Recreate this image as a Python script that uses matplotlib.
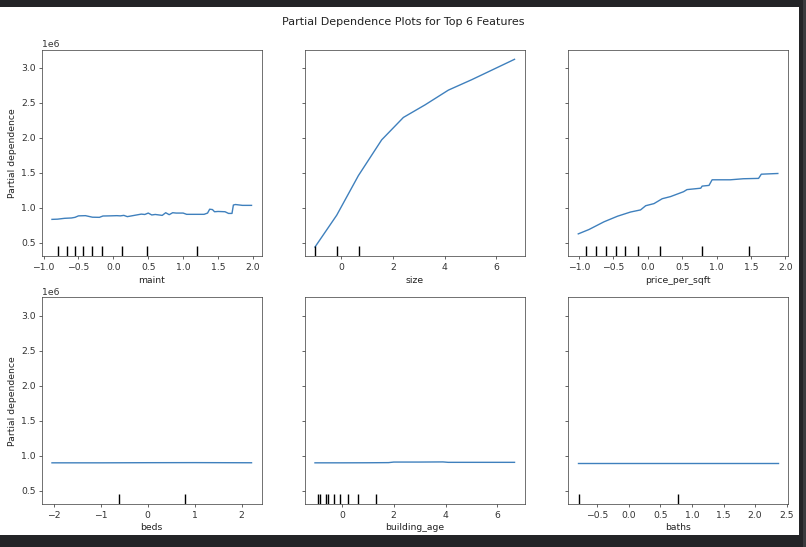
import numpy as np
import matplotlib
matplotlib.use("Agg")
import matplotlib.pyplot as plt
from matplotlib.patches import Rectangle

# ---------------- data ----------------
features = ["maint", "size", "price_per_sqft", "beds", "building_age", "baths"]

maint_x = [-0.88, -0.80, -0.70, -0.60, -0.55, -0.50, -0.40, -0.30, -0.20, -0.15,
           -0.05, 0.05, 0.10, 0.15, 0.20, 0.30, 0.40, 0.45, 0.50, 0.55, 0.60,
           0.70, 0.75, 0.80, 0.85, 0.90, 1.00, 1.05, 1.10, 1.30, 1.35, 1.38,
           1.42, 1.45, 1.50, 1.60, 1.65, 1.70, 1.72, 1.75, 1.85, 1.98]
maint_y = [0.835, 0.838, 0.850, 0.855, 0.864, 0.885, 0.888, 0.866, 0.864, 0.883,
           0.885, 0.888, 0.885, 0.892, 0.874, 0.892, 0.910, 0.905, 0.925, 0.898,
           0.905, 0.892, 0.930, 0.902, 0.930, 0.925, 0.925, 0.907, 0.907, 0.907,
           0.925, 0.980, 0.975, 0.944, 0.948, 0.944, 0.920, 0.920, 1.040, 1.047,
           1.035, 1.035]
maint_deciles = [-0.794, -0.669, -0.55, -0.439, -0.309, -0.157, 0.117, 0.476, 1.20]

size_x = [-1.02, -0.18, 0.66, 1.56, 2.40, 3.24, 4.14, 5.05, 6.70]
size_y = [0.44, 0.894, 1.46, 1.97, 2.29, 2.47, 2.68, 2.83, 3.12]
size_deciles = [-1.02, -0.17, 0.68]

pps_x = [-1.01, -0.855, -0.637, -0.44, -0.25, -0.105, -0.03, 0.09, 0.21, 0.33,
         0.52, 0.57, 0.77, 0.79, 0.89, 0.935, 1.20, 1.39, 1.61, 1.65, 1.89]
pps_y = [0.628, 0.69, 0.80, 0.88, 0.94, 0.97, 1.03, 1.06, 1.13, 1.16,
         1.23, 1.26, 1.28, 1.31, 1.32, 1.40, 1.40, 1.415, 1.42, 1.48, 1.49]
pps_deciles = [-0.898, -0.753, -0.613, -0.468, -0.332, -0.144, 0.171, 0.79, 1.477]

beds_x = [-2.04, -1.0, 0.0, 1.0, 2.21]
beds_y = [0.897, 0.897, 0.899, 0.900, 0.898]
beds_deciles = [-0.617, 0.787]

age_x = [-1.04, 0.0, 1.0, 1.8, 2.0, 3.0, 3.9, 4.1, 5.0, 6.66]
age_y = [0.897, 0.897, 0.898, 0.900, 0.908, 0.908, 0.910, 0.904, 0.904, 0.904]
age_deciles = [-0.92, -0.83, -0.61, -0.52, -0.31, -0.09, 0.23, 0.63, 1.33]

baths_x = [-0.80, 0.0, 0.78, 1.5, 2.36]
baths_y = [0.897, 0.897, 0.897, 0.897, 0.897]
baths_deciles = [-0.79, 0.78]

series = [
    (maint_x, maint_y, maint_deciles),
    (size_x, size_y, size_deciles),
    (pps_x, pps_y, pps_deciles),
    (beds_x, beds_y, beds_deciles),
    (age_x, age_y, age_deciles),
    (baths_x, baths_y, baths_deciles),
]

# ---------------- figure ----------------
plt.rcParams["text.color"] = "#222222"
plt.rcParams["axes.labelcolor"] = "#222222"
plt.rcParams["xtick.color"] = "#333333"
plt.rcParams["ytick.color"] = "#333333"
plt.rcParams["axes.edgecolor"] = "#444444"

DPI = 66.6
fig = plt.figure(figsize=(806 / DPI, 547 / DPI), dpi=DPI)
fig.patch.set_facecolor("#232427")
W, H = 806.0, 547.0
# white notebook output area inside dark screenshot frame
fig.patches.append(Rectangle((0, 1 - 535 / H), 799 / W, (535 - 7) / H,
                             transform=fig.transFigure, facecolor="white",
                             edgecolor="none", zorder=-10))
fig.patches.append(Rectangle((803 / W, 0), 3 / W, 1,
                             transform=fig.transFigure, facecolor="#3a3b3e",
                             edgecolor="none", zorder=-10))

col_left = [42, 305, 568.3]
row_top = [49.5, 297.3]
aw, ah = 219.5, 207.0

axes = []
for i in range(6):
    r, c = divmod(i, 3)
    rect = [col_left[c] / W, 1 - (row_top[r] + ah) / H, aw / W, ah / H]
    ax = fig.add_axes(rect, sharey=axes[0] if axes else None)
    axes.append(ax)

for i, (ax, (xs, ys, dec)) in enumerate(zip(axes, series)):
    xs = np.asarray(xs)
    ys = np.asarray(ys) * 1e6
    ax.plot(xs, ys, color="#3f80bd")
    trans = ax.get_xaxis_transform()
    ax.vlines(dec, 0, 0.05, transform=trans, colors="k", linewidth=1.5)
    ax.set_xlabel(features[i])
    if i % 3 == 0:
        ax.set_ylabel("Partial dependence")
    else:
        plt.setp(ax.get_yticklabels(), visible=False)
        ax.yaxis.offsetText.set_visible(False)

axes[0].set_ylim(0.305e6, 3.26e6)
axes[0].set_yticks([0.5e6, 1.0e6, 1.5e6, 2.0e6, 2.5e6, 3.0e6])
axes[5].set_xticks([-0.5, 0.0, 0.5, 1.0, 1.5, 2.0, 2.5])

fig.text(403 / W, 1 - 22 / H, "Partial Dependence Plots for Top 6 Features",
         ha="center", va="center", fontsize=12)

fig.savefig("out.png", dpi=DPI, facecolor=fig.get_facecolor())
